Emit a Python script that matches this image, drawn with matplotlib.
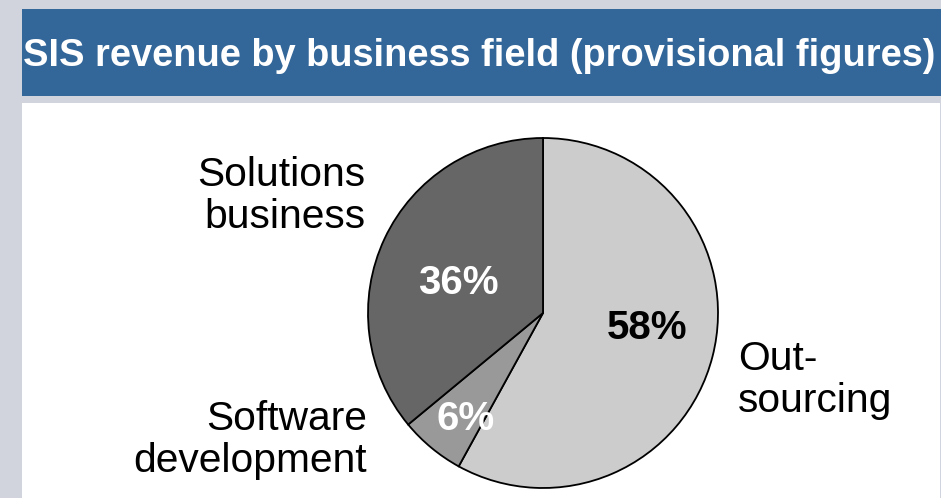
"""
SIS revenue by business field (provisional figures) - pie chart.
"""

import matplotlib.pyplot as plt
from matplotlib.patches import Rectangle

# Data
fields = ["Out-\nsourcing", "Software\ndevelopment", "Solutions\nbusiness"]
shares = [58, 6, 36]
pct_labels = ["58%", "6%", "36%"]
slice_colors = ["#cccccc", "#999999", "#666666"]
pct_colors = ["black", "white", "white"]

title = "SIS revenue by business field (provisional figures)"

W, H = 941, 498
plt.rcParams["font.family"] = ["Liberation Sans", "DejaVu Sans"]

fig = plt.figure(figsize=(W / 100, H / 100), dpi=100)
fig.patch.set_facecolor("#d1d4dc")


def px_rect(x0, y0, x1, y1):
    # пиксели (сверху вниз) -> доли фигуры
    return [x0 / W, 1 - y1 / H, (x1 - x0) / W, (y1 - y0) / H]


# фон: синяя плашка заголовка и белая панель
bg = fig.add_axes([0, 0, 1, 1], zorder=-5)
bg.set_xlim(0, W)
bg.set_ylim(H, 0)
bg.axis("off")
bg.add_patch(Rectangle((22, 9), W - 22, 87, facecolor="#336699", edgecolor="none"))
bg.add_patch(Rectangle((22, 103), 940 - 22, H - 103, facecolor="white", edgecolor="none"))
bg.text(23, 66, title, color="white", fontsize=27.4, fontweight="bold",
        ha="left", va="baseline")

# pie: centre (543, 313), radius 175 px
cx, cy, r = 543, 313, 175
ax = fig.add_axes(px_rect(cx - r, cy - r, cx + r, cy + r), zorder=2)

wedges, _ = ax.pie(shares, colors=slice_colors, startangle=90, counterclock=False,
                   radius=1, wedgeprops=dict(edgecolor="black", linewidth=1.3))
ax.set_xlim(-1, 1)
ax.set_ylim(-1, 1)
ax.axis("off")
for w in wedges:
    w.set_clip_on(False)

pct_pos = [(0.594, -0.086), (-0.44, -0.606), (-0.486, 0.171)]
for (x, y), txt, c in zip(pct_pos, pct_labels, pct_colors):
    ax.text(x, y, txt, ha="center", va="center", fontsize=29,
            fontweight="bold", color=c, clip_on=False)

name_pos = [(1.114, -0.383, "left"), (-1.006, -0.726, "right"), (-1.017, 0.669, "right")]
for (x, y, ha), txt in zip(name_pos, fields):
    ax.text(x, y, txt, ha=ha, va="center", multialignment=ha, fontsize=29.3,
            color="black", linespacing=1.15, clip_on=False)

fig.savefig("out.png", dpi=100, facecolor=fig.get_facecolor())
